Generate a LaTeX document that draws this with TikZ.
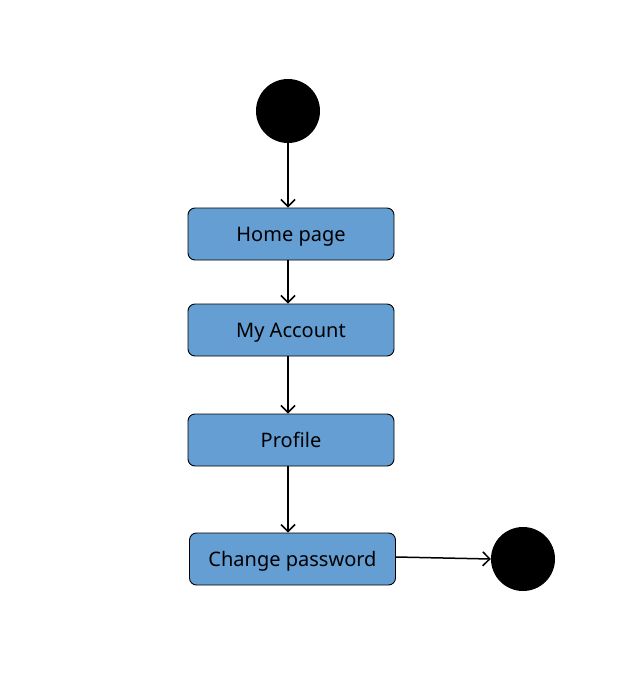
\documentclass[tikz,border=0pt]{standalone}
\usepackage{fontspec}
\setmainfont{Noto Sans}
\usetikzlibrary{arrows.meta}
\definecolor{boxblue}{RGB}{100,158,211}
\begin{document}
\begin{tikzpicture}[x=1pt,y=-1pt,
  state/.style={draw=black,fill=boxblue,rounded corners=7pt,minimum width=206pt,minimum height=52pt,inner sep=0pt,line width=0.9pt,font=\fontsize{20}{24}\selectfont,text height=14.3pt,text depth=0pt,text depth=-2pt},
  dot/.style={circle,fill=black,minimum size=64pt,inner sep=0pt},
  conn/.style={-{Straight Barb[length=7pt,width=14pt,line width=1.5pt]},line width=1.5pt}]
\useasboundingbox (0,0) rectangle (643,676);
\node[dot] (start) at (288,111) {};
\node[state] (home) at (291,234) {Home page};
\node[state] (acct) at (291,330) {My Account};
\node[state] (prof) at (291,440) {Profile};
\node[state] (chg) at (292.5,559) {Change password};
\node[dot] (end) at (523,559) {};
\draw[conn] (start) -- (start|-home.north);
\draw[conn] (start|-home.south) -- (start|-acct.north);
\draw[conn] (start|-acct.south) -- (start|-prof.north);
\draw[conn] (start|-prof.south) -- (start|-chg.north);
\draw[conn] (chg.east|-0,557) -- (end.west);
\end{tikzpicture}
\end{document}
